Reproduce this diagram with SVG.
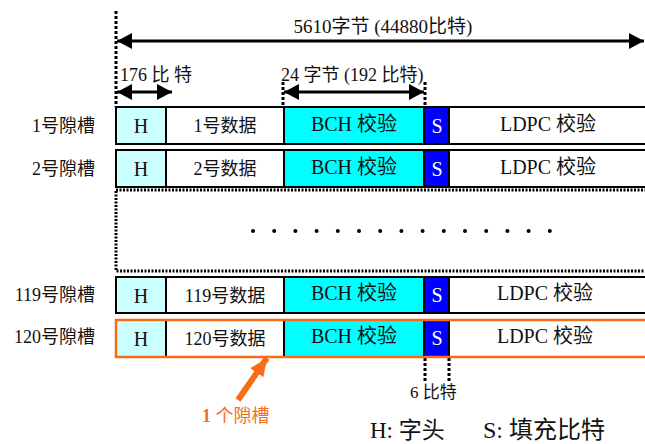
<svg xmlns="http://www.w3.org/2000/svg" width="645" height="444" viewBox="0 0 645 444">
<defs>
<style>
.t{font-family:"Liberation Serif","Noto Sans CJK SC",serif;fill:#111;}
.c{text-anchor:middle;}
.box{stroke:#000;stroke-width:2;}
.dash{stroke:#000;stroke-width:3;stroke-dasharray:3,2;fill:none;}
.arr{stroke:#000;stroke-width:3;fill:none;marker-start:url(#ah);marker-end:url(#ah);}
.w{fill:#fff;}
</style>
<marker id="ah" markerUnits="userSpaceOnUse" markerWidth="16" markerHeight="16" refX="15" refY="8" orient="auto-start-reverse" viewBox="0 0 16 16">
<path d="M0,0 L15,8 L0,16 z" fill="#000"/>
</marker>
<marker id="oh" markerUnits="userSpaceOnUse" markerWidth="20" markerHeight="20" refX="18" refY="10" orient="auto" viewBox="0 0 20 20">
<path d="M0,2 L18,10 L0,18 z" fill="#f96b14"/>
</marker>
</defs>
<rect width="645" height="444" fill="#fff"/>

<g id="connectors">
<line class="dash" x1="116" y1="11" x2="116" y2="107"/>
<line class="arr" x1="117" y1="41" x2="644" y2="41"/>
<line class="arr" x1="117" y1="92" x2="172" y2="92"/>
<line class="dash" x1="283" y1="82" x2="283" y2="107"/>
<line class="dash" x1="425" y1="82" x2="425" y2="107"/>
<line class="arr" x1="284" y1="92" x2="424" y2="92"/>
<line class="dash" x1="425" y1="358" x2="425" y2="381"/>
<line class="dash" x1="449" y1="358" x2="449" y2="381"/>
<line x1="238" y1="400" x2="267" y2="358" stroke="#f96b14" stroke-width="6" marker-end="url(#oh)"/>
</g>

<g id="top-labels">
<text class="t c" x="383" y="33" font-size="19">5610字节 (44880比特)</text>
<text class="t" x="120" y="81" font-size="18">176 比 特</text>
<text class="t" x="281" y="81" font-size="18">24 字节 (192 比特)</text>
</g>

<g id="slot1">
<text class="t" x="95" y="132" font-size="18" text-anchor="end">1号隙槽</text>
<rect class="box" x="116" y="107" width="50" height="37" fill="#ccffff"/>
<rect class="box" x="166" y="107" width="118" height="37" fill="#fff"/>
<rect class="box" x="284" y="107" width="140" height="37" fill="#00ffff"/>
<rect class="box" x="424" y="107" width="25" height="37" fill="#0000ff"/>
<rect class="box" x="449" y="107" width="200" height="37" fill="#fff"/>
<text class="t c" x="141" y="133" font-size="20">H</text>
<text class="t c" x="225" y="132" font-size="18">1号数据</text>
<text class="t c" x="354" y="131" font-size="20">BCH 校验</text>
<text class="t c w" x="437" y="133" font-size="20">S</text>
<text class="t c" x="548" y="131" font-size="20">LDPC 校验</text>
</g>

<g id="slot2">
<text class="t" x="95" y="175" font-size="18" text-anchor="end">2号隙槽</text>
<rect class="box" x="116" y="150" width="50" height="37" fill="#ccffff"/>
<rect class="box" x="166" y="150" width="118" height="37" fill="#fff"/>
<rect class="box" x="284" y="150" width="140" height="37" fill="#00ffff"/>
<rect class="box" x="424" y="150" width="25" height="37" fill="#0000ff"/>
<rect class="box" x="449" y="150" width="200" height="37" fill="#fff"/>
<text class="t c" x="141" y="176" font-size="20">H</text>
<text class="t c" x="225" y="175" font-size="18">2号数据</text>
<text class="t c" x="354" y="174" font-size="20">BCH 校验</text>
<text class="t c w" x="437" y="176" font-size="20">S</text>
<text class="t c" x="548" y="174" font-size="20">LDPC 校验</text>
</g>

<g id="ellipsis">
<rect x="116" y="190" width="540" height="81" fill="none" stroke="#000" stroke-width="3" stroke-dasharray="2,1.5"/>
<g fill="#000">
<circle cx="253" cy="231" r="2"/><circle cx="274.2" cy="231" r="2"/><circle cx="295.4" cy="231" r="2"/>
<circle cx="316.6" cy="231" r="2"/><circle cx="337.8" cy="231" r="2"/><circle cx="359" cy="231" r="2"/>
<circle cx="380.2" cy="231" r="2"/><circle cx="401.4" cy="231" r="2"/><circle cx="422.6" cy="231" r="2"/>
<circle cx="443.8" cy="231" r="2"/><circle cx="465" cy="231" r="2"/><circle cx="486.2" cy="231" r="2"/>
<circle cx="507.4" cy="231" r="2"/><circle cx="528.6" cy="231" r="2"/><circle cx="549.8" cy="231" r="2"/>
</g>
</g>

<g id="slot119">
<text class="t" x="95" y="301" font-size="18" text-anchor="end">119号隙槽</text>
<rect class="box" x="116" y="277" width="50" height="36" fill="#ccffff"/>
<rect class="box" x="166" y="277" width="118" height="36" fill="#fff"/>
<rect class="box" x="284" y="277" width="140" height="36" fill="#00ffff"/>
<rect class="box" x="424" y="277" width="25" height="36" fill="#0000ff"/>
<rect class="box" x="449" y="277" width="200" height="36" fill="#fff"/>
<text class="t c" x="141" y="303" font-size="20">H</text>
<text class="t c" x="225" y="302" font-size="18">119号数据</text>
<text class="t c" x="354" y="300" font-size="20">BCH 校验</text>
<text class="t c w" x="437" y="302" font-size="20">S</text>
<text class="t c" x="545" y="300" font-size="20">LDPC 校验</text>
</g>

<g id="slot120">
<text class="t" x="95" y="343" font-size="18" text-anchor="end">120号隙槽</text>
<rect class="box" x="116" y="320" width="50" height="37" fill="#ccffff"/>
<rect class="box" x="166" y="320" width="118" height="37" fill="#fff"/>
<rect class="box" x="284" y="320" width="140" height="37" fill="#00ffff"/>
<rect class="box" x="424" y="320" width="25" height="37" fill="#0000ff"/>
<rect class="box" x="449" y="320" width="200" height="37" fill="#fff"/>
<rect x="116" y="320" width="540" height="37" fill="none" stroke="#f96b14" stroke-width="2.5"/>
<text class="t c" x="141" y="346" font-size="20">H</text>
<text class="t c" x="225" y="345" font-size="18">120号数据</text>
<text class="t c" x="354" y="343" font-size="20">BCH 校验</text>
<text class="t c w" x="437" y="345" font-size="20">S</text>
<text class="t c" x="545" y="343" font-size="20">LDPC 校验</text>
</g>

<g id="bottom-labels">
<text class="t" x="410" y="398" font-size="17">6 比特</text>
<text class="t" x="202" y="422" font-size="18" style="fill:#f07020"><tspan font-weight="bold">1</tspan> 个隙槽</text>
<text class="t" x="370" y="438" font-size="23">H: 字头</text>
<text class="t" x="483" y="438" font-size="24">S: 填充比特</text>
</g>
</svg>
